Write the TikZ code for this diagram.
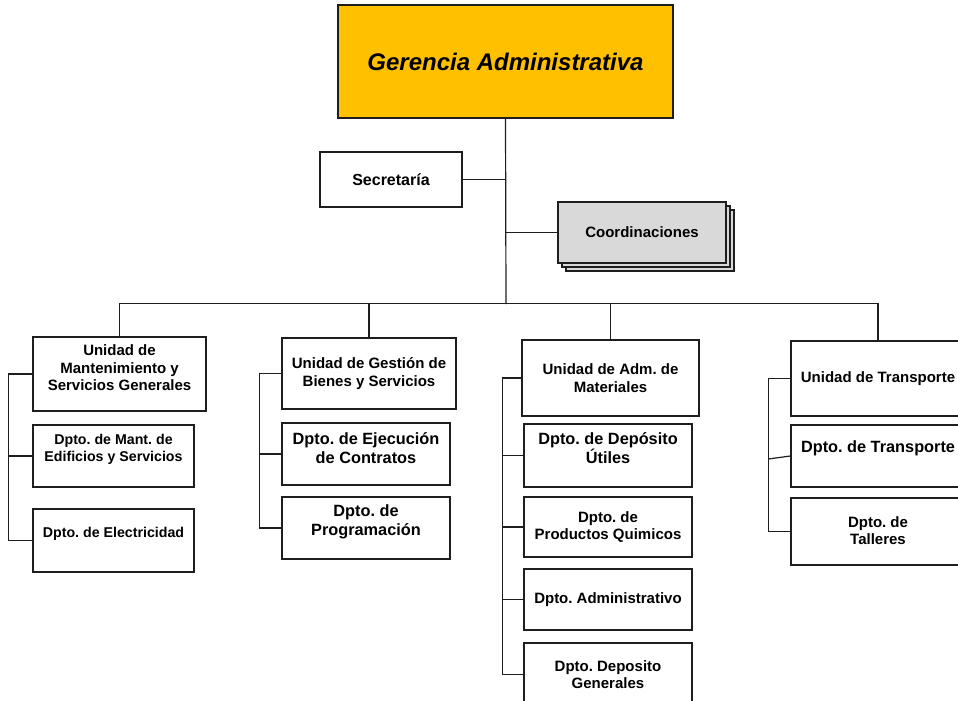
\documentclass[tikz,border=0pt]{standalone}
\usepackage{fontspec}
\setmainfont{Liberation Sans}
\definecolor{gold}{RGB}{255,192,0}
\definecolor{coordgray}{RGB}{217,217,217}
\definecolor{ink}{RGB}{30,30,30}
\newcommand\mkbox[6][]{\node[box,#1,minimum width={(#5-#3)*1pt},minimum height={(#6-#4)*1pt}] (#2) at ({(#3+#5)/2},{(#4+#6)/2}) {};}
\frenchspacing
\begin{document}
\frenchspacing
\begin{tikzpicture}[x=1pt,y=-1pt,
  box/.style={draw=ink,line width=1.3pt,rectangle,inner sep=0pt,fill=white},
  txt/.style={font=\bfseries\frenchspacing\fontsize{15}{17.5}\selectfont,align=center,inner sep=0pt,text=black},
  bigtxt/.style={txt,font=\bfseries\frenchspacing\fontsize{16.3}{19}\selectfont},
  smalltxt/.style={txt,font=\bfseries\frenchspacing\fontsize{14.2}{17}\selectfont},
  conn/.style={draw=ink,line width=1.2pt}]
\useasboundingbox (0,0) rectangle (958,701);
\clip (0,0) rectangle (958,701);
% boxes
\mkbox[fill=gold]{G}{338}{5}{673}{118}
\mkbox{sec}{320}{152}{462}{207}
\mkbox[fill=coordgray]{co3}{566}{210}{734}{271}
\mkbox[fill=coordgray]{co2}{562}{206}{730}{267}
\mkbox[fill=coordgray]{co}{558}{202}{726}{263}
\mkbox{u1}{33}{337}{206}{411}
\mkbox{m1}{33}{425}{194}{487}
\mkbox{e1}{33}{509}{194}{572}
\mkbox{u2}{282}{338}{456}{409}
\mkbox{e2}{282}{423}{450}{485}
\mkbox{p2}{282}{497}{450}{559}
\mkbox{u3}{522}{340}{699}{416}
\mkbox{d3}{524}{424}{692}{487}
\mkbox{q3}{524}{497}{692}{557}
\mkbox{a3}{524}{569}{692}{630}
\mkbox{g3}{524}{643}{692}{706}
\mkbox{u4}{791}{341}{965}{416}
\mkbox{t4}{791}{425}{965}{487}
\mkbox{tl4}{791}{498}{965}{565}
% texts
\node[txt,font=\bfseries\itshape\fontsize{24}{28}\selectfont] (tG) at (G.center) {Gerencia Administrativa};
\node[txt,font=\bfseries\fontsize{16}{19}\selectfont] (tsec) at (sec.center) {Secretaría};
\node[txt] (tco) at (co.center) {Coordinaciones};
\node[txt] (tu1) at ([yshift=6pt]u1.center) {Unidad de\\Mantenimiento y\\Servicios Generales};
\node[smalltxt] (tm1) at ([yshift=7pt]m1.center) {Dpto. de Mant. de\\Edificios y Servicios};
\node[smalltxt] (te1) at ([yshift=7pt]e1.center) {Dpto. de Electricidad};
\node[txt] (tu2) at (u2.center) {Unidad de Gestión de\\Bienes y Servicios};
\node[bigtxt] (te2) at ([yshift=6pt]e2.center) {Dpto. de Ejecución\\de Contratos};
\node[bigtxt] (tp2) at ([yshift=6pt]p2.center) {Dpto. de\\Programación};
\node[txt] (tu3) at (u3.center) {Unidad de Adm. de\\Materiales};
\node[bigtxt] (td3) at ([yshift=7pt]d3.center) {Dpto. de Depósito\\Útiles};
\node[txt] (tq3) at (q3.center) {Dpto. de\\Productos Quimicos};
\node[txt] (ta3) at (a3.center) {Dpto. Administrativo};
\node[txt] (tg3) at (g3.center) {Dpto. Deposito\\Generales};
\node[txt] (tu4) at (u4.center) {Unidad de Transporte};
\node[bigtxt] (tt4) at ([yshift=8pt]t4.center) {Dpto. de Transporte};
\node[txt] (ttl4) at ([yshift=1pt]tl4.center) {Dpto. de\\Talleres};
% connectors
\coordinate (bus) at (506,304);
\draw[conn] (G.south) -- (bus);
\draw[conn] (sec.east) -- (sec.east -| bus);
\draw[conn] (co.west) -- (co.west -| bus);
\draw[conn] (u1.north) -- ++(0,-33) -| (u4.north);
\draw[conn] (u2.north) -- (u2.north |- bus);
\draw[conn] (u3.north) -- (u3.north |- bus);
\draw[conn] (u1.west) -- ++(-24,0) |- (e1.west);
\draw[conn] (m1.west) -- ++(-24,0);
\draw[conn] (u2.west) -- ++(-22,0) |- (p2.west);
\draw[conn] (e2.west) -- ++(-22,0);
\draw[conn] (u3.west) -- ++(-19,0) |- (g3.west);
\draw[conn] (d3.west) -- ++(-21,0);
\draw[conn] (q3.west) -- ++(-21,0);
\draw[conn] (a3.west) -- ++(-21,0);
\draw[conn] (u4.west) -- ++(-22,0) |- (tl4.west);
\draw[conn] (t4.west) -- ++(-22,3);
\end{tikzpicture}
\end{document}
